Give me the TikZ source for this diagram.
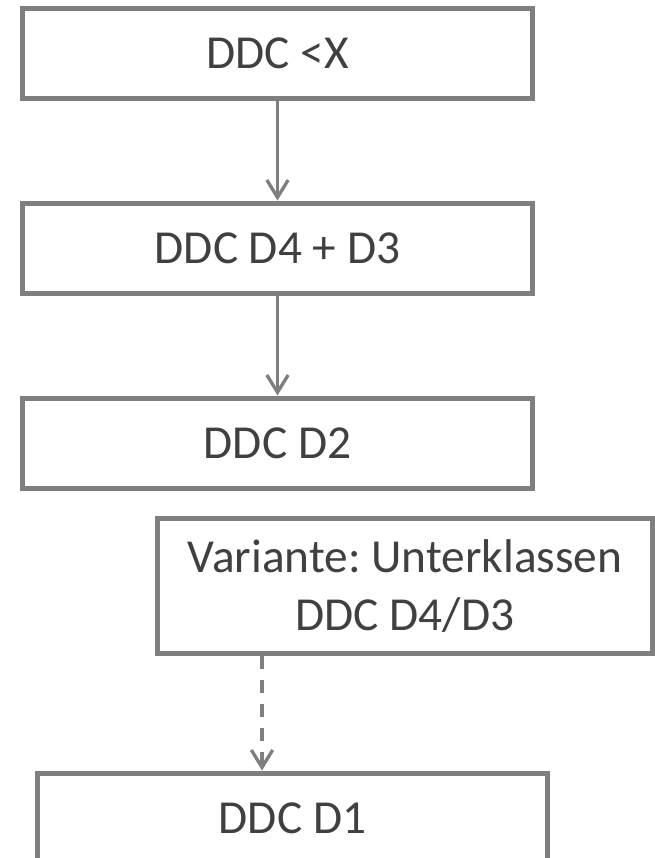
\documentclass[tikz,border=0pt]{standalone}
\usepackage{fontspec}
\setmainfont{Carlito}
\usepackage{tikz}
\usetikzlibrary{arrows.meta, positioning}
\definecolor{boxgray}{RGB}{127,127,127}
\definecolor{textgray}{RGB}{64,64,64}
\frenchspacing

\begin{document}
\begin{tikzpicture}[x=0.75pt, y=-0.75pt,
    every node/.style={font=\fontsize{35.5}{43}\selectfont, text=textgray},
    ddcbox/.style={draw=boxgray, line width=3.75pt, fill=white, align=center,
      minimum width=382pt, minimum height=67.5pt, inner sep=0pt},
    flow/.style={draw=boxgray, line width=2.5pt,
      -{Straight Barb[length=13pt, width=16pt, line width=2.5pt]}}]
        \useasboundingbox (0,0) rectangle (655,858);
        \clip (0,0) rectangle (655,858);
        % main chain
        \node[ddcbox] (ddcX)  at (277.5,53)  {DDC <X};
        \node[ddcbox] (ddcD43) at (277.5,248) {DDC D4 + D3};
        \node[ddcbox] (ddcD2) at (277.5,443) {DDC D2};
        % variant
        \node[ddcbox, minimum width=371pt, minimum height=101pt] (variante) at (405,586)
          {Variante: Unterklassen\\DDC D4/D3};
        \node[ddcbox] (ddcD1) at (292.5,818) {DDC D1};
        \coordinate (dashx) at (262,700);
        \draw[flow] (ddcX) -- (ddcD43);
        \draw[flow] (ddcD43) -- (ddcD2);
        \draw[flow, dash pattern=on 9.5pt off 8.5pt] (variante.south -| dashx) -- (ddcD1.north -| dashx);
      \end{tikzpicture}
\end{document}
